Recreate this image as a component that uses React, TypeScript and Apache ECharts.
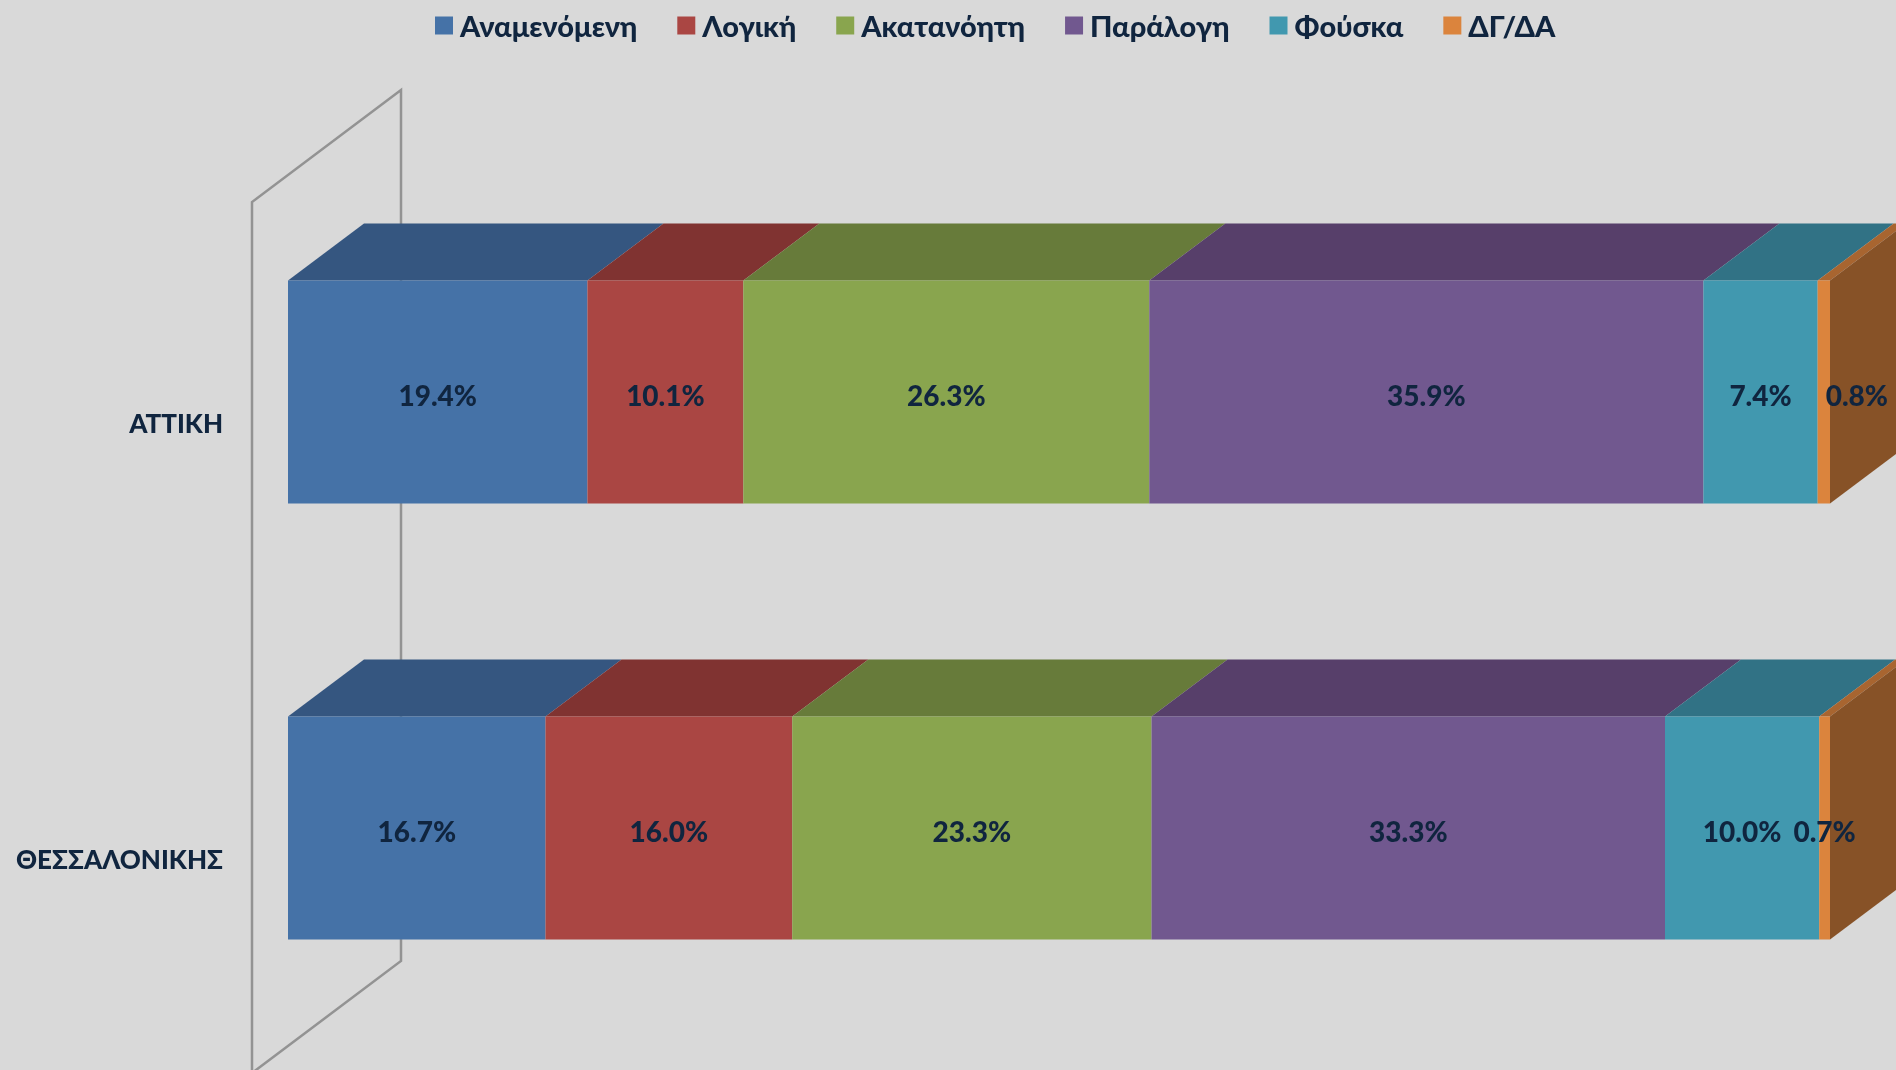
import React, { useEffect, useRef } from "react";
import * as echarts from "echarts";

const categories = ["ΑΤΤΙΚΗ", "ΘΕΣΣΑΛΟΝΙΚΗΣ"];
const seriesNames = ["Αναμενόμενη", "Λογική", "Ακατανόητη", "Παράλογη", "Φούσκα", "ΔΓ/ΔΑ"];
const anamenomeni = [19.4, 16.7];
const logiki = [10.1, 16.0];
const akatanoiti = [26.3, 23.3];
const paralogi = [35.9, 33.3];
const fouska = [7.4, 10.0];
const dgda = [0.8, 0.7];
const seriesValues = [anamenomeni, logiki, akatanoiti, paralogi, fouska, dgda];

const frontColors = ["#4572A7", "#AA4643", "#89A54E", "#71588F", "#4198AF", "#DB843D"];
const topColors = ["#355680", "#803331", "#677B3A", "#573F6A", "#317285", "#A86530"];
const sideColor = "#875227";
const TEXT = "#10253F";
const FONT = "Lato, 'Noto Sans', sans-serif";
const BAR_H = 223;
const DX = 76;
const DY = 57;

const totals = categories.map((_, c) => seriesValues.reduce((s, v) => s + v[c], 0));
const share = (s: number, c: number) => (seriesValues[s][c] / totals[c]) * 100;

const faces: number[][] = [];
categories.forEach((_, c) => {
  let acc = 0;
  seriesNames.forEach((_, s) => {
    const next = acc + share(s, c);
    faces.push([c, acc, next, s]);
    acc = next;
  });
});

export default function App() {
  const ref = useRef<HTMLDivElement>(null);
  useEffect(() => {
    document.body.style.margin = "0";
    document.body.style.overflow = "hidden";
    const chart = echarts.init(ref.current!, undefined, { renderer: "svg" });
    chart.setOption({
      animation: false,
      backgroundColor: "#D9D9D9",
      textStyle: { fontFamily: FONT },
      color: frontColors,
      legend: {
        data: seriesNames,
        left: 435,
        top: 11,
        padding: 0,
        itemWidth: 18,
        itemHeight: 18,
        itemGap: 40,
        icon: "rect",
        textStyle: { color: TEXT, fontSize: 29, fontWeight: 900, fontFamily: FONT, padding: [0, 0, 0, 2] },
      },
      grid: [
        { left: 288, width: 1542, top: 174, height: 872, outerBoundsMode: "none" },
        { left: 288, width: 1542, top: 205, height: 872, outerBoundsMode: "none" },
      ],
      xAxis: [
        { type: "value", min: 0, max: 100, show: false, gridIndex: 0 },
        { type: "value", min: 0, max: 100, show: false, gridIndex: 1 },
      ],
      yAxis: [
        {
          type: "category",
          gridIndex: 0,
          inverse: true,
          data: categories,
          axisLine: { show: false },
          axisTick: { show: false },
          axisLabel: { show: false },
        },
        {
          type: "category",
          gridIndex: 1,
          inverse: true,
          data: categories,
          axisLine: { show: false },
          axisTick: { show: false },
          axisLabel: {
            margin: 65,
            color: TEXT,
            fontSize: 26,
            fontWeight: 900,
            fontFamily: FONT,
          },
        },
      ],
      graphic: [
        {
          type: "polyline",
          z: 0,
          silent: true,
          shape: { points: [[252, 1075], [252, 202], [401, 90], [401, 961], [252, 1073]] },
          style: { stroke: "#939393", lineWidth: 2.5, fill: "none" },
        },
      ],
      series: [
        {
          type: "custom",
          z: 1,
          silent: true,
          data: faces,
          encode: { x: [1, 2], y: 0 },
          renderItem: (_: any, api: any) => {
            const c = api.value(0);
            const a = api.coord([api.value(1), c]);
            const b = api.coord([api.value(2), c]);
            const s = api.value(3);
            const top = a[1] - BAR_H / 2;
            const bot = a[1] + BAR_H / 2;
            const children: any[] = [
              {
                type: "polygon",
                shape: {
                  points: [
                    [a[0], top],
                    [b[0], top],
                    [b[0] + DX, top - DY],
                    [a[0] + DX, top - DY],
                  ],
                },
                style: { fill: topColors[s] },
              },
            ];
            if (s === seriesNames.length - 1) {
              children.push({
                type: "polygon",
                shape: {
                  points: [
                    [b[0], top],
                    [b[0] + DX, top - DY],
                    [b[0] + DX, bot - DY],
                    [b[0], bot],
                  ],
                },
                style: { fill: sideColor },
              });
            }
            return { type: "group", children };
          },
        },
        ...seriesNames.map((name, s) => ({
          type: "bar",
          name,
          stack: "total",
          z: 3,
          barWidth: BAR_H,
          itemStyle: { color: frontColors[s] },
          label: {
            show: true,
            position: "inside",
            color: TEXT,
            fontSize: 28,
            fontWeight: 900,
            fontFamily: FONT,
            offset: [0, 3],
            formatter: (p: any) => seriesValues[s][p.dataIndex].toFixed(1) + "%",
          },
          data: categories.map((_, c) =>
            s === 5 && c === 0
              ? { value: share(s, c), label: { offset: [33, 3] } }
              : share(s, c)
          ),
        })),
      ],
    });
    return () => chart.dispose();
  }, []);
  return (
    <div
      ref={ref}
      style={{ position: "absolute", left: 0, top: 0, width: 1896, height: 1070, filter: "blur(0.5px)" }}
    />
  );
}
